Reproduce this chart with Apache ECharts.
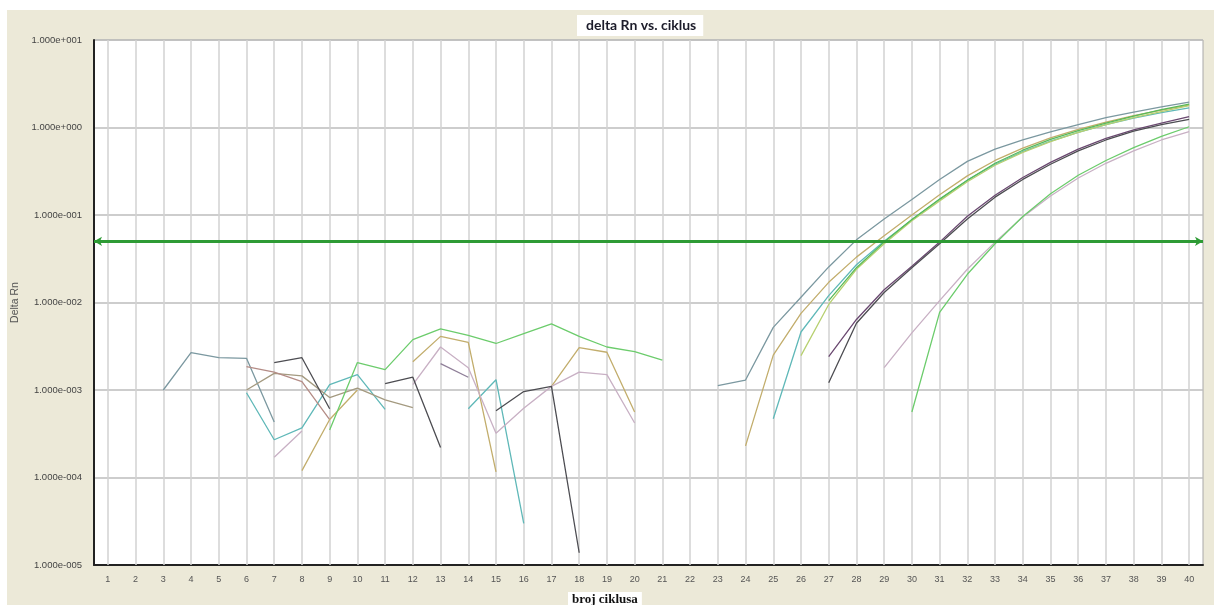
<!DOCTYPE html>
<html><head><meta charset="utf-8">
<script src="https://cdn.jsdelivr.net/npm/echarts@6/dist/echarts.min.js"></script>
<style>
html,body{margin:0;padding:0;background:#fff;width:1214px;height:605px;overflow:hidden}
#chart{position:absolute;left:7px;top:10px;width:1207px;height:595px;background:#ECE9D8}
</style>
</head><body><div id="chart"></div>
<script>
const _ = null;
const titleText = 'delta Rn vs. ciklus';
const xName = 'broj ciklusa';
const yName = 'Delta Rn';
const cycles = Array.from({length: 40}, (v, i) => String(i + 1));
const threshold = 0.05;

// values per cycle 1..40 (rows of 10)
const steel = [
  _, _, 1.0e-3, 2.67e-3, 2.34e-3, 2.3e-3, 4.3e-4, _, _, _,
  _, _, _, _, _, _, _, _, _, _,
  _, _, 1.12e-3, 1.3e-3, 5.2e-3, 1.15e-2, 2.55e-2, 5.2e-2, 9.0e-2, 0.15,
  0.255, 0.41, 0.565, 0.72, 0.89, 1.08, 1.30, 1.50, 1.72, 1.95];
const teal = [
  _, _, _, _, _, 9.3e-4, 2.7e-4, 3.7e-4, 1.15e-3, 1.5e-3,
  6.0e-4, _, _, 6.1e-4, 1.31e-3, 3.0e-5, _, _, _, _,
  _, _, _, _, 4.7e-4, 4.6e-3, 1.2e-2, 2.7e-2, 5.0e-2, 8.8e-2,
  0.15, 0.25, 0.38, 0.53, 0.70, 0.88, 1.08, 1.28, 1.48, 1.68];
const darkGray = [
  _, _, _, _, _, _, 2.06e-3, 2.34e-3, 6.1e-4, _,
  1.18e-3, 1.4e-3, 2.2e-4, _, 5.8e-4, 9.6e-4, 1.1e-3, 1.38e-5, _, _,
  _, _, _, _, _, _, 1.21e-3, 5.8e-3, 1.3e-2, 2.5e-2,
  4.7e-2, 9.0e-2, 0.16, 0.255, 0.38, 0.54, 0.72, 0.91, 1.08, 1.24];
const purple = [
  _, _, _, _, _, _, _, _, _, _,
  _, _, _, _, _, _, _, _, _, _,
  _, _, _, _, _, _, 2.4e-3, 6.4e-3, 1.4e-2, 2.6e-2,
  4.9e-2, 9.7e-2, 0.168, 0.268, 0.40, 0.565, 0.75, 0.94, 1.12, 1.33];
const grayPurple = [
  _, _, _, _, _, _, _, _, _, _,
  _, _, 2.0e-3, 1.4e-3, _, _, _, _, _, _,
  _, _, _, _, _, _, _, _, _, _,
  _, _, _, _, _, _, _, _, _, _];
const olive = [
  _, _, _, _, _, 1.0e-3, 1.55e-3, 1.45e-3, 8.2e-4, 1.05e-3,
  7.7e-4, 6.3e-4, _, _, _, _, _, _, _, _,
  _, _, _, _, _, _, _, _, _, _,
  _, _, _, _, _, _, _, _, _, _];
const pinkBrown = [
  _, _, _, _, _, 1.85e-3, 1.6e-3, 1.25e-3, 4.6e-4, _,
  _, _, _, _, _, _, _, _, _, _,
  _, _, _, _, _, _, _, _, _, _,
  _, _, _, _, _, _, _, _, _, _];
const tan = [
  _, _, _, _, _, _, _, 1.2e-4, 4.6e-4, 1.0e-3,
  _, 2.1e-3, 4.1e-3, 3.5e-3, 1.16e-4, _, 1.1e-3, 3.05e-3, 2.7e-3, 5.6e-4,
  _, _, _, 2.3e-4, 2.5e-3, 7.5e-3, 1.7e-2, 3.3e-2, 5.8e-2, 0.10,
  0.17, 0.28, 0.42, 0.58, 0.76, 0.95, 1.15, 1.37, 1.58, 1.80];
const lightMauve = [
  _, _, _, _, _, _, 1.7e-4, 3.4e-4, _, _,
  _, 1.15e-3, 3.1e-3, 1.8e-3, 3.2e-4, 6.2e-4, 1.1e-3, 1.6e-3, 1.5e-3, 4.2e-4,
  _, _, _, _, _, _, _, _, 1.8e-3, 4.5e-3,
  1.05e-2, 2.4e-2, 4.9e-2, 9.5e-2, 0.165, 0.265, 0.39, 0.54, 0.72, 0.90];
const green = [
  _, _, _, _, _, _, _, _, 3.5e-4, 2.06e-3,
  1.71e-3, 3.77e-3, 5.0e-3, 4.2e-3, 3.4e-3, 4.4e-3, 5.7e-3, 4.1e-3, 3.1e-3, 2.75e-3,
  2.2e-3, _, _, _, _, _, _, _, _, 5.6e-4,
  7.7e-3, 2.1e-2, 4.7e-2, 9.6e-2, 0.175, 0.285, 0.42, 0.59, 0.79, 1.02];
const yellowGreen = [
  _, _, _, _, _, _, _, _, _, _,
  _, _, _, _, _, _, _, _, _, _,
  _, _, _, _, _, 2.47e-3, 9.5e-3, 2.4e-2, 4.7e-2, 8.6e-2,
  0.145, 0.24, 0.37, 0.52, 0.69, 0.88, 1.08, 1.30, 1.52, 1.78];
const green2 = [
  _, _, _, _, _, _, _, _, _, _,
  _, _, _, _, _, _, _, _, _, _,
  _, _, _, _, _, _, 1.05e-2, 2.5e-2, 4.9e-2, 8.9e-2,
  0.152, 0.25, 0.39, 0.55, 0.73, 0.92, 1.12, 1.35, 1.60, 1.85];

const seriesDefs = [
  ['steel', steel, '#7b98a0'],
  ['teal', teal, '#5fb8b8'],
  ['olive', olive, '#a49a80'],
  ['pinkBrown', pinkBrown, '#b48c86'],
  ['tan', tan, '#c2ad6c'],
  ['lightMauve', lightMauve, '#c8b0c4'],
  ['grayPurple', grayPurple, '#8f7f98'],
  ['yellowGreen', yellowGreen, '#b7d070'],
  ['green2', green2, '#58bb58'],
  ['green', green, '#6ccc6c'],
  ['purple', purple, '#6a4870'],
  ['darkGray', darkGray, '#4d4d52']
];

function fmtSci(v) {
  const e = Math.round(Math.log10(v));
  return '1.000e' + (e < 0 ? '-' : '+') + String(Math.abs(e)).padStart(3, '0');
}

const series = seriesDefs.map(([name, data, color]) => ({
  name, type: 'line', data, showSymbol: false, symbol: 'none',
  connectNulls: false, silent: true,
  lineStyle: {color, width: 1.3}, itemStyle: {color}
}));
series.push({
  name: 'threshold', type: 'line', data: [], silent: true,
  markLine: {
    silent: true, symbol: ['arrow', 'arrow'], symbolSize: [7, 8],
    label: {show: false},
    lineStyle: {color: '#2e9b35', width: 3, type: 'solid'},
    data: [{yAxis: threshold}]
  }
});

const chart = echarts.init(document.getElementById('chart'), null, {renderer: 'canvas'});
chart.setOption({
  animation: false,
  backgroundColor: '#ECE9D8',
  title: [
    {text: titleText, left: 570, top: 5, padding: [3, 7, 4, 9], backgroundColor: '#fff',
     textStyle: {fontFamily: 'Lato', fontWeight: 'bold', fontSize: 14, color: '#1c1c2a'}},
    {text: xName, left: 561, top: 582, padding: [1, 4, 4, 4], backgroundColor: '#fff',
     textStyle: {fontFamily: 'Liberation Serif', fontWeight: 'bold', fontSize: 13, color: '#111'}}
  ],
  grid: {left: 87, right: 11, top: 30, bottom: 40, show: true, containLabel: false,
         outerBoundsMode: 'none',
         backgroundColor: '#fff', borderColor: '#a8a8a8', borderWidth: 1},
  xAxis: {
    type: 'category', data: cycles, boundaryGap: true,
    axisLine: {lineStyle: {color: '#222', width: 2}},
    axisTick: {show: true, alignWithLabel: true, inside: true, length: 525,
               lineStyle: {color: '#d2d2d2', width: 1.5}},
    splitLine: {show: false},
    axisLabel: {interval: 0, color: '#555', fontSize: 9, margin: 10, fontFamily: 'Liberation Sans'}
  },
  yAxis: {
    type: 'log', logBase: 10, min: 1e-5, max: 10,
    name: yName, nameLocation: 'middle', nameGap: 71,
    nameTextStyle: {color: '#555', fontSize: 10.5, fontFamily: 'Liberation Sans'},
    axisLine: {show: true, lineStyle: {color: '#222', width: 2}},
    axisTick: {show: false},
    splitLine: {show: true, lineStyle: {color: '#bcbcbc', width: 1.5}},
    axisLabel: {formatter: fmtSci, color: '#444', fontSize: 9.5, margin: 12, fontFamily: 'Liberation Sans'}
  },
  series
});
</script></body></html>
